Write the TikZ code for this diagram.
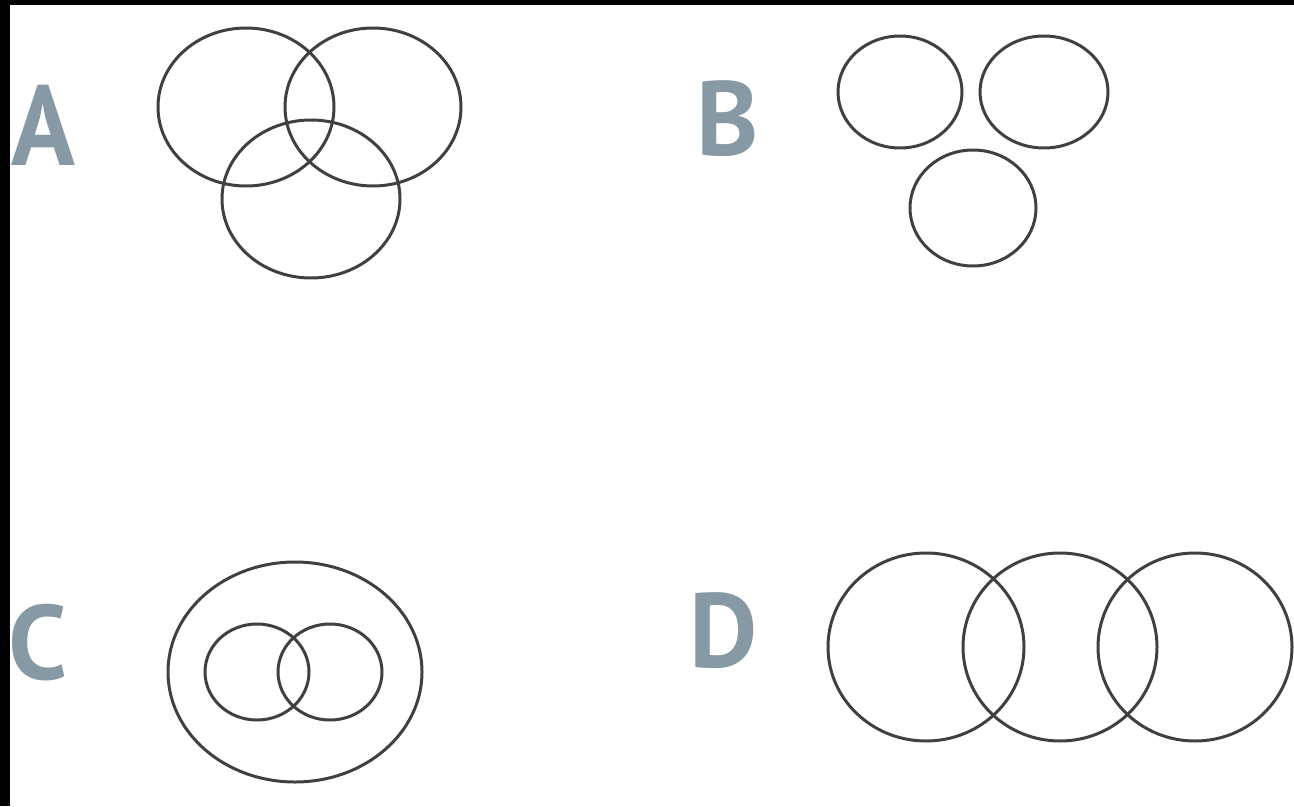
\documentclass[tikz,border=0pt]{standalone}
\usepackage{fontspec}
\setsansfont{PT Sans}
\usepackage{xcolor}
\usepackage{tikz}
\usetikzlibrary{positioning, backgrounds}
\definecolor{lettergray}{HTML}{8699A4}
\tikzset{
    setline/.style={draw=black!75, line width=0.85pt},
    letterlabel/.style={inner sep=0pt, anchor=base west, text=lettergray, font=\fontsize{30}{30}\selectfont\sffamily\bfseries}
}

\begin{document}
\begin{tikzpicture}[x=0.01cm, y=-0.01cm]
    \useasboundingbox (0,0) rectangle (1294,806);
    \fill[white] (0,0) rectangle (1294,806);
    \fill[black] (0,0) rectangle (1294,5);
    \fill[black] (0,0) rectangle (10,806);

    \node (labelA) [letterlabel, yscale=1.08] at (11,165) {A};
    \node (labelB) [letterlabel] at (696,155) {B};
    \node (labelC) [letterlabel] at (8,679) {C};
    \node (labelD) [letterlabel] at (689,667) {D};

    % A: three overlapping sets
    \draw [setline] (246,107) ellipse [x radius=88, y radius=79];
    \draw [setline] (373,107) ellipse [x radius=88, y radius=79];
    \draw [setline] (311,199) ellipse [x radius=89, y radius=79];

    % B: three disjoint sets
    \draw [setline] (900,92) ellipse [x radius=62, y radius=56];
    \draw [setline] (1044,92) ellipse [x radius=64, y radius=56];
    \draw [setline] (973,208) ellipse [x radius=63, y radius=58];

    % C: two overlapping sets inside a third
    \draw [setline] (295,672) ellipse [x radius=127, y radius=110];
    \draw [setline] (257,672) ellipse [x radius=52, y radius=48];
    \draw [setline] (330,672) ellipse [x radius=52, y radius=48];

    % D: chain of three sets
    \draw [setline] (926,647) ellipse [x radius=98, y radius=94];
    \draw [setline] (1060,647) ellipse [x radius=97, y radius=94];
    \draw [setline] (1195,647) ellipse [x radius=97, y radius=94];
\end{tikzpicture}
\end{document}
